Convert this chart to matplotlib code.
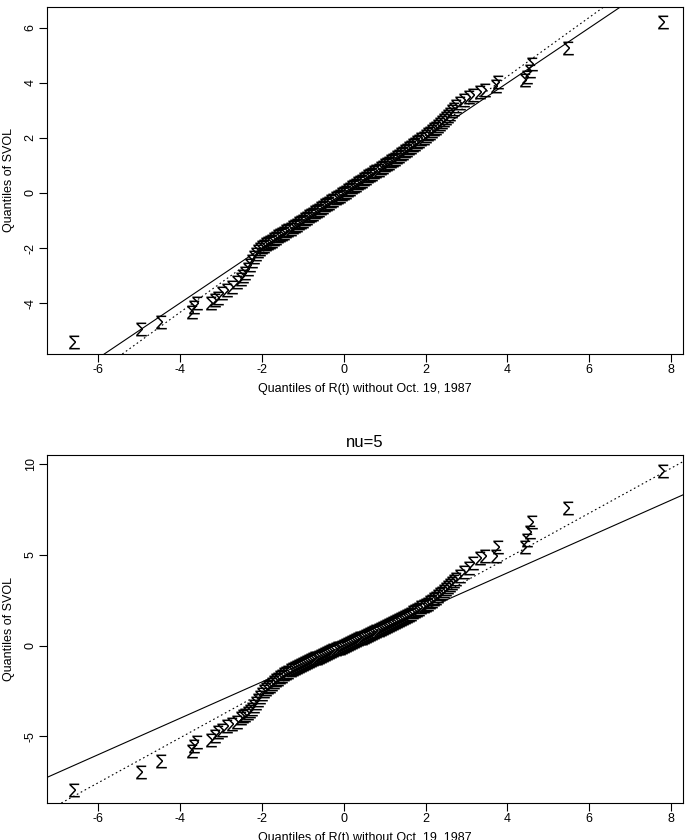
import matplotlib
matplotlib.use("Agg")
import matplotlib.pyplot as plt

plt.rcParams['font.family'] = ['Liberation Sans', 'DejaVu Sans']
plt.rcParams['axes.unicode_minus'] = False
plt.rcParams['mathtext.fontset'] = 'custom'
plt.rcParams['mathtext.rm'] = 'Liberation Sans'
plt.rcParams['mathtext.it'] = 'Liberation Sans'

# sorted quantiles of R(t) (shared by both panels)
x_low = [-6.60, -4.95, -4.46, -3.70, -3.65, -3.58, -3.24, -3.14, -3.07,
         -2.97, -2.85, -2.72, -2.60, -2.50]
x_core = [-2.45, -2.40, -2.35, -2.30, -2.25, -2.20, -2.15, -2.10, -2.05, -2.00,
          -1.95, -1.90, -1.85, -1.80, -1.75, -1.70, -1.65, -1.60, -1.55, -1.50,
          -1.45, -1.40, -1.35, -1.30, -1.25, -1.20, -1.15, -1.10, -1.05, -1.00,
          -0.95, -0.90, -0.85, -0.80, -0.75, -0.70, -0.65, -0.60, -0.55, -0.50,
          -0.45, -0.40, -0.35, -0.30, -0.25, -0.20, -0.15, -0.10, -0.05, 0.00,
          0.05, 0.10, 0.15, 0.20, 0.25, 0.30, 0.35, 0.40, 0.45, 0.50,
          0.55, 0.60, 0.65, 0.70, 0.75, 0.80, 0.85, 0.90, 0.95, 1.00,
          1.05, 1.10, 1.15, 1.20, 1.25, 1.30, 1.35, 1.40, 1.45, 1.50,
          1.55, 1.60, 1.65, 1.70, 1.75, 1.80, 1.85, 1.90, 1.95, 2.00,
          2.05, 2.10, 2.15, 2.20, 2.25, 2.30, 2.35, 2.40, 2.45, 2.50,
          2.55, 2.60, 2.65, 2.70, 2.75]
x_high = [2.85, 2.95, 3.05, 3.17, 3.34, 3.46, 3.72, 3.76, 4.44, 4.49,
          4.56, 4.60, 5.47, 7.79]

# quantiles of SVOL, gaussian fit (top panel)
y1_low = [-5.40, -4.95, -4.69, -4.33, -4.15, -4.00, -4.00, -3.90, -3.80,
          -3.65, -3.53, -3.42, -3.25, -3.12]
y1_core = [-3.02, -2.92, -2.78, -2.62, -2.46, -2.32, -2.20, -2.10, -2.03, -1.97,
           -1.92, -1.87, -1.82, -1.77, -1.73, -1.68, -1.63, -1.58, -1.54, -1.49,
           -1.44, -1.39, -1.35, -1.30, -1.25, -1.20, -1.15, -1.10, -1.05, -1.00,
           -0.95, -0.90, -0.85, -0.80, -0.75, -0.70, -0.65, -0.60, -0.55, -0.50,
           -0.45, -0.40, -0.35, -0.30, -0.25, -0.20, -0.15, -0.10, -0.05, 0.00,
           0.05, 0.10, 0.15, 0.20, 0.25, 0.30, 0.35, 0.40, 0.45, 0.50,
           0.55, 0.60, 0.65, 0.70, 0.75, 0.80, 0.85, 0.90, 0.95, 1.00,
           1.05, 1.10, 1.15, 1.20, 1.25, 1.30, 1.36, 1.41, 1.46, 1.52,
           1.57, 1.62, 1.68, 1.73, 1.79, 1.84, 1.90, 1.96, 2.01, 2.07,
           2.13, 2.19, 2.25, 2.31, 2.38, 2.44, 2.51, 2.58, 2.65, 2.72,
           2.80, 2.88, 2.97, 3.06, 3.16]
y1_high = [3.28, 3.38, 3.48, 3.56, 3.67, 3.75, 3.88, 4.04, 4.10, 4.22,
           4.42, 4.68, 5.27, 6.22]

# quantiles of SVOL, nu=5 fit (bottom panel)
y2_low = [-7.97, -6.98, -6.37, -5.82, -5.55, -5.33, -5.22, -5.00, -4.78,
          -4.62, -4.45, -4.34, -4.18, -3.98]
y2_core = [-3.90, -3.80, -3.70, -3.62, -3.50, -3.35, -3.18, -3.00, -2.82, -2.66,
           -2.52, -2.40, -2.30, -2.20, -2.10, -2.01, -1.92, -1.83, -1.74, -1.66,
           -1.58, -1.51, -1.44, -1.37, -1.31, -1.25, -1.19, -1.13, -1.08, -1.02,
           -0.96, -0.91, -0.86, -0.81, -0.76, -0.71, -0.66, -0.61, -0.56, -0.51,
           -0.46, -0.41, -0.36, -0.31, -0.26, -0.21, -0.16, -0.11, -0.06, -0.01,
           0.04, 0.09, 0.14, 0.19, 0.24, 0.29, 0.34, 0.39, 0.44, 0.49,
           0.54, 0.59, 0.64, 0.69, 0.74, 0.80, 0.85, 0.90, 0.95, 1.01,
           1.06, 1.12, 1.17, 1.23, 1.28, 1.34, 1.40, 1.46, 1.52, 1.58,
           1.64, 1.70, 1.76, 1.83, 1.89, 1.96, 2.03, 2.10, 2.17, 2.24,
           2.31, 2.39, 2.47, 2.55, 2.63, 2.72, 2.81, 2.90, 3.00, 3.10,
           3.21, 3.32, 3.44, 3.56, 3.68]
y2_high = [3.85, 4.05, 4.25, 4.55, 4.80, 4.90, 4.95, 5.40, 5.40, 5.80,
           6.26, 6.80, 7.58, 9.60]

# reference lines: (intercept, slope)
ident_line = (0.0, 1.0)
fit_line_top = (-0.05, 1.072)
fit_line_bot = (-0.13, 1.236)

xs = x_low + x_core + x_high
panels = [
    ("nu=Inf (Gaussian) fit", y1_low + y1_core + y1_high, fit_line_top,
     [-4, -2, 0, 2, 4, 6], (-5.85, 6.76), [0.0686, 0.5786, 0.9285, 0.4131], 7),
    ("nu=5", y2_low + y2_core + y2_high, fit_line_bot,
     [-5, 0, 5, 10], (-8.66, 10.48), [0.0686, 0.0440, 0.9285, 0.4143], 6),
]

fig = plt.figure(figsize=(6.85, 8.4), dpi=100)

for title, ys, fit, yticks, ylim, rect, tpad in panels:
    ax = fig.add_axes(rect)
    ax.plot(xs, ys, linestyle='none', marker=r'$\Sigma$', markersize=10,
            color='black', markeredgewidth=0)
    ax.axline((0, ident_line[0]), slope=ident_line[1], color='black', lw=0.8)
    ax.axline((0, fit[0]), slope=fit[1], color='black', lw=0.8,
              linestyle=(0, (1.5, 2.5)))
    ax.set_xlim(-7.25, 8.29)
    ax.set_ylim(*ylim)
    ax.set_xticks([-6, -4, -2, 0, 2, 4, 6, 8])
    ax.set_yticks(yticks)
    ax.set_yticklabels([str(t) for t in yticks], rotation=90, va='center')
    ax.tick_params(direction='out', length=6, width=0.8, labelsize=9, pad=1.5)
    for s in ax.spines.values():
        s.set_linewidth(0.8)
    ax.set_xlabel('Quantiles of R(t) without Oct. 19, 1987', fontsize=9, labelpad=5)
    ax.set_ylabel('Quantiles of SVOL', fontsize=9)
    ax.yaxis.set_label_coords(-0.050, 0.5)
    ax.set_title(title, fontsize=12, pad=tpad)

fig.savefig('out.png', dpi=100)
